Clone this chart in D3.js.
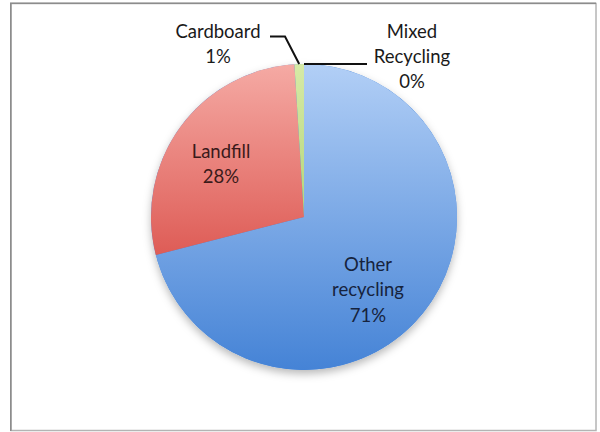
<!DOCTYPE html>
<html>
<head>
<meta charset="utf-8">
<script src="https://cdn.jsdelivr.net/npm/d3@7"></script>
<style>
  html, body { margin: 0; padding: 0; background: #fff; }
  svg text { font-family: Lato, "Open Sans", sans-serif; }
</style>
</head>
<body>
<svg id="chart" width="600" height="432"></svg>
<script>
// Waste stream shares (percent)
const categories = ["Other recycling", "Landfill", "Cardboard", "Mixed Recycling"];
const labelLines = [["Other", "recycling"], ["Landfill"], ["Cardboard"], ["Mixed", "Recycling"]];
const shares = [71, 28, 1, 0];
const gradTop = ["#b2cff6", "#f5aaa4", "#d6eaa6", "#cfe0f7"];
const gradBottom = ["#4583d6", "#de5c56", "#b4d67a", "#9bbbe8"];
const textColors = ["#16233d", "#3a1a1a", "#1a1a1a", "#1a1a1a"];

const W = 600, H = 432;
const cx = 304, cy = 217, R = 153;
const pct = d3.format(".0f");

const svg = d3.select("#chart");
const defs = svg.append("defs");

// soft shadow under the pie
const f = defs.append("filter").attr("id", "shadow")
  .attr("x", "-20%").attr("y", "-20%").attr("width", "140%").attr("height", "150%");
f.append("feDropShadow").attr("dx", 0).attr("dy", 4).attr("stdDeviation", 4)
  .attr("flood-color", "#000").attr("flood-opacity", 0.28);

categories.forEach((c, i) => {
  const g = defs.append("linearGradient").attr("id", "grad" + i)
    .attr("x1", 0).attr("y1", 0).attr("x2", 0).attr("y2", 1);
  g.append("stop").attr("offset", "0%").attr("stop-color", gradTop[i]);
  g.append("stop").attr("offset", "100%").attr("stop-color", gradBottom[i]);
});

// chart frame
svg.append("rect").attr("x", 11).attr("y", 3.5).attr("width", 585).attr("height", 427)
  .attr("fill", "#fff").attr("stroke", "#b4b4b4").attr("stroke-width", 1.5);
svg.append("line").attr("x1", 10.75).attr("x2", 10.75).attr("y1", 3).attr("y2", 431)
  .attr("stroke", "#8c8c8c").attr("stroke-width", 1.5);
svg.append("line").attr("x1", 10).attr("x2", 596).attr("y1", 3.25).attr("y2", 3.25)
  .attr("stroke", "#8c8c8c").attr("stroke-width", 1.5);

const pie = d3.pie().sort(null).value(d => d)(shares);
const arc = d3.arc().innerRadius(0).outerRadius(R);

const pieG = svg.append("g").attr("transform", `translate(${cx},${cy})`);
pieG.append("circle").attr("r", R).attr("fill", "#4583d6").attr("filter", "url(#shadow)");
pieG.selectAll("path.slice").data(pie).join("path")
  .attr("class", "slice")
  .attr("d", arc)
  .attr("fill", (d, i) => `url(#grad${i})`);

// label placement (text anchor points)
const labelPos = [[368, 270.7], [221, 157.7], [218, 37.5], [412, 37.5]];
const lineGap = 25.4;

categories.forEach((c, i) => {
  const lines = labelLines[i].concat([pct(shares[i]) + "%"]);
  const t = svg.append("text")
    .attr("text-anchor", "middle")
    .attr("font-size", 18.5)
    .attr("fill", textColors[i]);
  lines.forEach((ln, k) => {
    t.append("tspan").attr("x", labelPos[i][0]).attr("y", labelPos[i][1] + k * lineGap).text(ln);
  });
});

// leader lines for the two small slices
const edgePoint = d => {
  const a = (d.startAngle + d.endAngle) / 2;
  return [cx + R * Math.sin(a), cy - R * Math.cos(a)];
};
const line = d3.line();
const pCard = edgePoint(pie[2]);
svg.append("path")
  .attr("d", line([[270, 36.5], [285, 36.5], pCard]))
  .attr("fill", "none").attr("stroke", "#111").attr("stroke-width", 2);
const pMixed = edgePoint(pie[3]);
svg.append("path")
  .attr("d", line([pMixed, [367, pMixed[1]]]))
  .attr("fill", "none").attr("stroke", "#111").attr("stroke-width", 2);
</script>
</body>
</html>
